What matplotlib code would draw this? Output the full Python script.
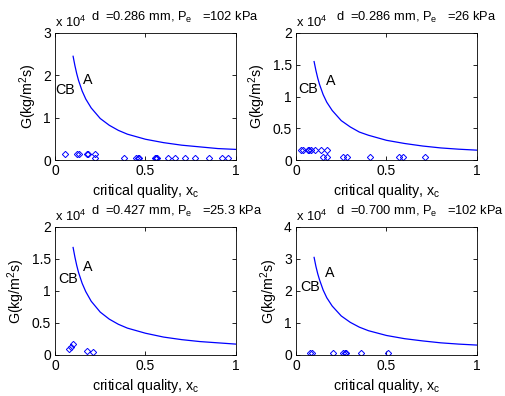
import matplotlib
matplotlib.use("Agg")
import matplotlib.pyplot as plt

plt.rcParams['font.family'] = ['Liberation Sans', 'DejaVu Sans']
plt.rcParams['mathtext.fontset'] = 'custom'
plt.rcParams['mathtext.rm'] = 'Liberation Sans'
plt.rcParams['mathtext.it'] = 'Liberation Sans'

FS_LAB = 10.3   # axis labels
FS_CB = 10.3    # CB / A
FS_TICK = 10
FS_SM = 9.3     # titles, x 10^4

# ---------------- data (G in units of 1e4 kg/m2s) ----------------
curve_x = [0.1, 0.11, 0.12, 0.13, 0.15, 0.17, 0.2, 0.25, 0.3, 0.35, 0.4, 0.5, 0.6, 0.7, 0.8, 0.9, 1.0]
curve_g1 = [2.45, 2.23, 2.04, 1.88, 1.63, 1.44, 1.23, 0.98, 0.82, 0.70, 0.61, 0.49, 0.41, 0.35, 0.31, 0.27, 0.25]
curve_g2 = [1.55, 1.41, 1.29, 1.19, 1.03, 0.91, 0.78, 0.62, 0.52, 0.44, 0.39, 0.31, 0.26, 0.22, 0.19, 0.17, 0.155]
curve_g3 = [1.68, 1.53, 1.40, 1.29, 1.12, 0.99, 0.84, 0.67, 0.56, 0.48, 0.42, 0.34, 0.28, 0.24, 0.21, 0.19, 0.17]
curve_g4 = [3.05, 2.77, 2.54, 2.35, 2.03, 1.79, 1.53, 1.22, 1.02, 0.87, 0.76, 0.61, 0.51, 0.44, 0.38, 0.34, 0.31]

pts_x1 = [0.057, 0.12, 0.131, 0.175, 0.18, 0.22,
          0.221, 0.383, 0.446, 0.457, 0.466, 0.551, 0.558, 0.565, 0.626, 0.661, 0.72, 0.775, 0.849, 0.923, 0.958]
pts_g1 = [0.15, 0.15, 0.15, 0.15, 0.15, 0.15,
          0.04, 0.04, 0.04, 0.04, 0.04, 0.04, 0.04, 0.04, 0.04, 0.04, 0.04, 0.04, 0.04, 0.04, 0.04]

pts_x2 = [0.028, 0.04, 0.064, 0.074, 0.081, 0.105, 0.138, 0.173,
          0.151, 0.169, 0.257, 0.283, 0.408, 0.57, 0.592, 0.71]
pts_g2 = [0.15, 0.15, 0.15, 0.15, 0.15, 0.15, 0.15, 0.15,
          0.04, 0.04, 0.04, 0.04, 0.04, 0.04, 0.04, 0.04]

pts_x3 = [0.075, 0.088, 0.1, 0.175, 0.212]
pts_g3 = [0.09, 0.13, 0.17, 0.06, 0.05]

pts_x4 = [0.077, 0.086, 0.206, 0.261, 0.27, 0.279, 0.357, 0.511]
pts_g4 = [0.05, 0.05, 0.05, 0.05, 0.05, 0.05, 0.05, 0.05]

titles = ["d  =0.286 mm, P$_{\\rm e}$   =102 kPa",
          "d  =0.286 mm, P$_{\\rm e}$   =26 kPa",
          "d  =0.427 mm, P$_{\\rm e}$   =25.3 kPa",
          "d  =0.700 mm, P$_{\\rm e}$   =102 kPa"]
ymaxes = [3, 2, 2, 4]
ysteps = [1, 0.5, 0.5, 1]
cb_pos = [(0.055, 1.65), (0.068, 1.12), (0.074, 1.18), (0.077, 2.14)]
a_pos = [(0.18, 1.9), (0.19, 1.25), (0.18, 1.375), (0.188, 2.55)]
title_x = [0.2, 0.22, 0.2, 0.22]

curves = [curve_g1, curve_g2, curve_g3, curve_g4]
pts = [(pts_x1, pts_g1), (pts_x2, pts_g2), (pts_x3, pts_g3), (pts_x4, pts_g4)]

W, H = 506, 396
boxes = [(55, 33, 181, 127), (296, 33, 181, 127), (55, 227, 181, 128), (296, 227, 181, 128)]

fig = plt.figure(figsize=(W / 100, H / 100), dpi=100)

for i in range(4):
    l, t, w, h = boxes[i]
    ax = fig.add_axes([l / W, (H - t - h) / H, w / W, h / H])
    ax.plot(curve_x, curves[i], color='b', lw=0.9)
    ax.plot(pts[i][0], pts[i][1], 'D', mfc='none', mec='b', ms=3.2, mew=0.7)
    ax.set_xlim(0, 1)
    ax.set_ylim(0, ymaxes[i])
    ax.set_xticks([0, 0.5, 1])
    ax.set_xticklabels(['0', '0.5', '1'])
    yt = []
    v = 0
    while v <= ymaxes[i] + 1e-9:
        yt.append(v)
        v += ysteps[i]
    ax.set_yticks(yt)
    ax.set_yticklabels(["%g" % v for v in yt])
    ax.tick_params(direction='in', top=True, right=True, length=3, width=0.6, labelsize=FS_TICK, pad=3)
    for s in ax.spines.values():
        s.set_linewidth(0.6)
    ax.set_xlabel("critical quality, x$_{\\rm c}$", fontsize=FS_LAB, labelpad=3)
    ax.set_ylabel("G(kg/m$^2$s)", fontsize=FS_LAB, labelpad=3)
    ax.text(0.0, 1.045, "x 10$^4$", transform=ax.transAxes, fontsize=FS_SM, ha='left', va='baseline')
    ax.text(title_x[i], 1.095, titles[i], transform=ax.transAxes, fontsize=FS_SM, ha='left', va='baseline')
    ax.text(cb_pos[i][0], cb_pos[i][1], "CB", fontsize=FS_CB, ha='center', va='center')
    ax.text(a_pos[i][0], a_pos[i][1], "A", fontsize=FS_CB, ha='center', va='center')

fig.savefig("out.png", dpi=100)
